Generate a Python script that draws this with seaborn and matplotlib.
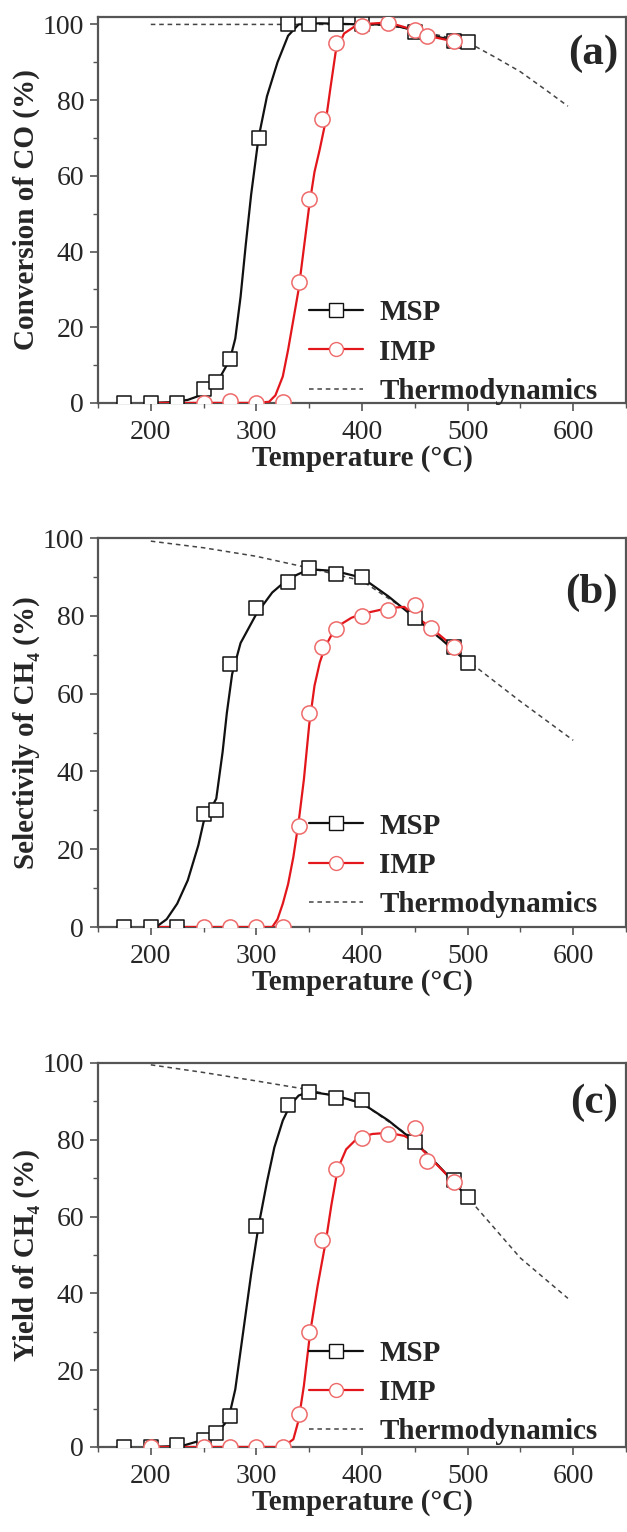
import matplotlib
matplotlib.use("Agg")
import matplotlib.pyplot as plt
import seaborn as sns
import pandas as pd
from matplotlib.lines import Line2D
from matplotlib.ticker import MultipleLocator

sns.set_theme(style="ticks")
plt.rcParams["font.family"] = ["Liberation Serif", "DejaVu Serif"]

# ---------------- data ----------------
# Panel (a): conversion of CO (%)
a_msp_T = [175, 200, 225, 250, 262, 275, 302, 330, 350, 375, 400, 450, 487, 500]
a_msp_Y = [0, 0, 0, 3.8, 5.6, 11.7, 70, 100, 100, 100, 100, 98, 95.6, 95.3]
a_imp_T = [250, 275, 300, 325, 340, 350, 362, 375, 400, 425, 450, 462, 487]
a_imp_Y = [0, 0.5, 0, 0.3, 32, 54, 75, 95, 99.7, 100.5, 98.5, 97, 95.5]
a_msp_fit_T = [200, 220, 235, 245, 255, 265, 275, 280, 285, 290, 295, 302, 310, 320, 330, 340, 360, 400, 425, 450, 475, 500]
a_msp_fit_Y = [0, 0.2, 0.8, 1.8, 3.5, 6.5, 11.5, 17, 28, 42, 55, 70, 81, 90, 97, 100, 100.3, 100, 100, 98.5, 96.5, 95.3]
a_imp_fit_T = [205, 250, 300, 312, 318, 325, 330, 335, 340, 345, 350, 355, 360, 366, 370, 375, 383, 396, 425, 450, 462, 487]
a_imp_fit_Y = [0, 0, 0, 0.3, 2, 7, 14, 22, 30, 41, 52, 61, 67, 75, 83, 92.6, 97.6, 100, 100.5, 98.5, 97, 95.5]
a_thermo_T = [200, 250, 300, 350, 400, 425, 450, 475, 500, 525, 550, 575, 595]
a_thermo_Y = [100, 100, 100, 100, 100, 99.7, 98.5, 97, 95.3, 91.5, 87.5, 82.5, 78.4]

# Panel (b): selectivity of CH4 (%)
b_msp_T = [175, 200, 225, 250, 262, 275, 300, 330, 350, 375, 400, 450, 487, 500]
b_msp_Y = [0, 0, 0, 29, 30, 67.5, 82, 88.8, 92.3, 90.8, 90, 79.4, 72, 67.9]
b_imp_T = [250, 275, 300, 325, 340, 350, 362, 375, 400, 425, 450, 465, 487]
b_imp_Y = [0, 0, 0, 0, 26, 55, 72, 76.5, 80, 81.5, 82.8, 77, 72]
b_msp_fit_T = [205, 215, 225, 235, 245, 250, 262, 268, 272, 277, 285, 300, 315, 330, 350, 375, 400, 425, 450, 475, 500]
b_msp_fit_Y = [0, 2, 6, 12, 21, 27, 33, 45, 55, 65, 73, 80.5, 86, 89.5, 92, 91.5, 89.8, 85, 79.5, 74, 68]
b_imp_fit_T = [205, 250, 315, 320, 325, 330, 335, 340, 345, 350, 355, 360, 365, 375, 390, 400, 425, 440, 450, 465, 487]
b_imp_fit_Y = [0, 0, 0, 2, 6, 11, 18, 27, 38, 52, 62, 68, 72, 77, 79.5, 80.5, 82, 82.3, 80, 77, 72]
b_thermo_T = [200, 250, 300, 350, 400, 450, 500, 550, 600]
b_thermo_Y = [99.2, 97.5, 95.3, 92.3, 89, 80, 68.5, 58, 48]

# Panel (c): yield of CH4 (%)
c_msp_T = [175, 200, 225, 250, 262, 275, 300, 330, 350, 375, 400, 450, 487, 500]
c_msp_Y = [0, 0, 0.5, 1.8, 3.7, 8, 57.5, 89, 92.3, 90.8, 90.3, 79.5, 69.5, 65]
c_imp_T = [200, 250, 275, 300, 325, 340, 350, 362, 375, 400, 425, 450, 462, 487]
c_imp_Y = [0, 0, 0, 0, 0, 8.5, 30, 54, 72.5, 80.5, 81.5, 83, 74.5, 69]
c_msp_fit_T = [200, 230, 245, 255, 265, 270, 275, 280, 287, 295, 302, 310, 317, 325, 332, 340, 350, 375, 400, 425, 450, 475, 500]
c_msp_fit_Y = [0, 0.3, 1.5, 2.5, 4.5, 6, 9, 15, 29, 45, 57.5, 69, 78, 85, 89, 91.5, 92.5, 91.5, 89.5, 85, 79.5, 72.5, 65]
c_imp_fit_T = [205, 250, 300, 325, 335, 340, 345, 351, 358, 366, 371, 377, 385, 396, 410, 425, 440, 450, 462, 487]
c_imp_fit_Y = [0, 0, 0, 0, 2, 7, 16, 30, 42, 54, 63, 72.4, 77.5, 80.5, 81.5, 81.8, 81, 79.5, 76, 69]
c_thermo_T = [200, 250, 300, 350, 400, 450, 500, 550, 595]
c_thermo_Y = [99.5, 97.5, 95.3, 93, 89.5, 80, 65, 49.2, 38.7]

x_ticks = [200, 300, 400, 500, 600]
y_ticks = [0, 20, 40, 60, 80, 100]
series_labels = ["MSP", "IMP", "Thermodynamics"]
x_label = "Temperature (°C)"
y_labels = ["Conversion of CO (%)", "Selectivily of CH\u2084 (%)", "Yield of CH\u2084 (%)"]
panel_tags = ["(a)", "(b)", "(c)"]

panels = [
    (a_msp_T, a_msp_Y, a_imp_T, a_imp_Y, a_msp_fit_T, a_msp_fit_Y, a_imp_fit_T, a_imp_fit_Y, a_thermo_T, a_thermo_Y),
    (b_msp_T, b_msp_Y, b_imp_T, b_imp_Y, b_msp_fit_T, b_msp_fit_Y, b_imp_fit_T, b_imp_fit_Y, b_thermo_T, b_thermo_Y),
    (c_msp_T, c_msp_Y, c_imp_T, c_imp_Y, c_msp_fit_T, c_msp_fit_Y, c_imp_fit_T, c_imp_fit_Y, c_thermo_T, c_thermo_Y),
]

# ---------------- styling ----------------
BLACK = "#111111"
RED = "#e3161b"
RED_MK = "#ee6a6a"
THERMO = "#444444"
SPINE = "#555555"
THERMO_LS = (0, (3, 2.5))

fig = plt.figure(figsize=(6.27, 15.32), dpi=100)
positions = [
    [0.1563, 0.7370, 0.8421, 0.2520],
    [0.1563, 0.3949, 0.8421, 0.2539],
    [0.1563, 0.0555, 0.8421, 0.2507],
]
ylims = [(0, 102), (0, 100), (0, 100)]
tag_y = [0.905, 0.86, 0.896]
leg_y = [-0.005, 0.023, 0.004]

for i, (pos, data) in enumerate(zip(positions, panels)):
    (mT, mY, iT, iY, mfT, mfY, ifT, ifY, tT, tY) = data
    ax = fig.add_axes(pos)

    sns.lineplot(x=tT, y=tY, ax=ax, color=THERMO, lw=1.1, linestyle=THERMO_LS, zorder=2)
    sns.lineplot(x=mfT, y=mfY, ax=ax, color=BLACK, lw=1.6, zorder=3)
    sns.lineplot(x=ifT, y=ifY, ax=ax, color=RED, lw=1.6, zorder=3)
    sns.scatterplot(x=mT, y=mY, ax=ax, marker="s", s=110, facecolor="white",
                    edgecolor=BLACK, linewidth=1.1, zorder=4)
    sns.scatterplot(x=iT, y=iY, ax=ax, marker="o", s=120, facecolor="white",
                    edgecolor=RED_MK, linewidth=1.1, zorder=4)

    ax.set_xlim(150, 650)
    ax.set_ylim(*ylims[i])
    ax.set_xticks(x_ticks)
    ax.set_yticks(y_ticks)
    ax.xaxis.set_minor_locator(MultipleLocator(50))
    ax.yaxis.set_minor_locator(MultipleLocator(10))
    ax.tick_params(axis="both", which="major", direction="out", length=6, width=1.2,
                   color=SPINE, labelsize=20, pad=4)
    ax.tick_params(axis="both", which="minor", direction="out", length=3.5, width=1.0, color=SPINE)
    ax.tick_params(axis="x", which="major", pad=6)
    for sp in ax.spines.values():
        sp.set_visible(True)
        sp.set_color(SPINE)
        sp.set_linewidth(1.6)

    ax.set_xlabel(x_label, fontsize=21, fontweight="bold", labelpad=0)
    ax.set_ylabel(y_labels[i], fontsize=21, fontweight="bold", labelpad=2)

    ax.text(0.985, tag_y[i], panel_tags[i], transform=ax.transAxes, ha="right", va="center",
            fontsize=31, fontweight="bold")

    handles = [
        Line2D([], [], color=BLACK, lw=1.6, marker="s", markersize=10,
               markerfacecolor="white", markeredgecolor=BLACK),
        Line2D([], [], color=RED, lw=1.6, marker="o", markersize=10,
               markerfacecolor="white", markeredgecolor=RED_MK),
        Line2D([], [], color=THERMO, lw=1.1, linestyle=THERMO_LS),
    ]
    ax.legend(handles, series_labels, loc="lower left", bbox_to_anchor=(0.4, leg_y[i]),
              frameon=False, prop={"size": 21, "weight": "bold"}, handlelength=1.85,
              handletextpad=0.55, labelspacing=0.42, borderpad=0, borderaxespad=0)

fig.savefig("out.png", dpi=100)
